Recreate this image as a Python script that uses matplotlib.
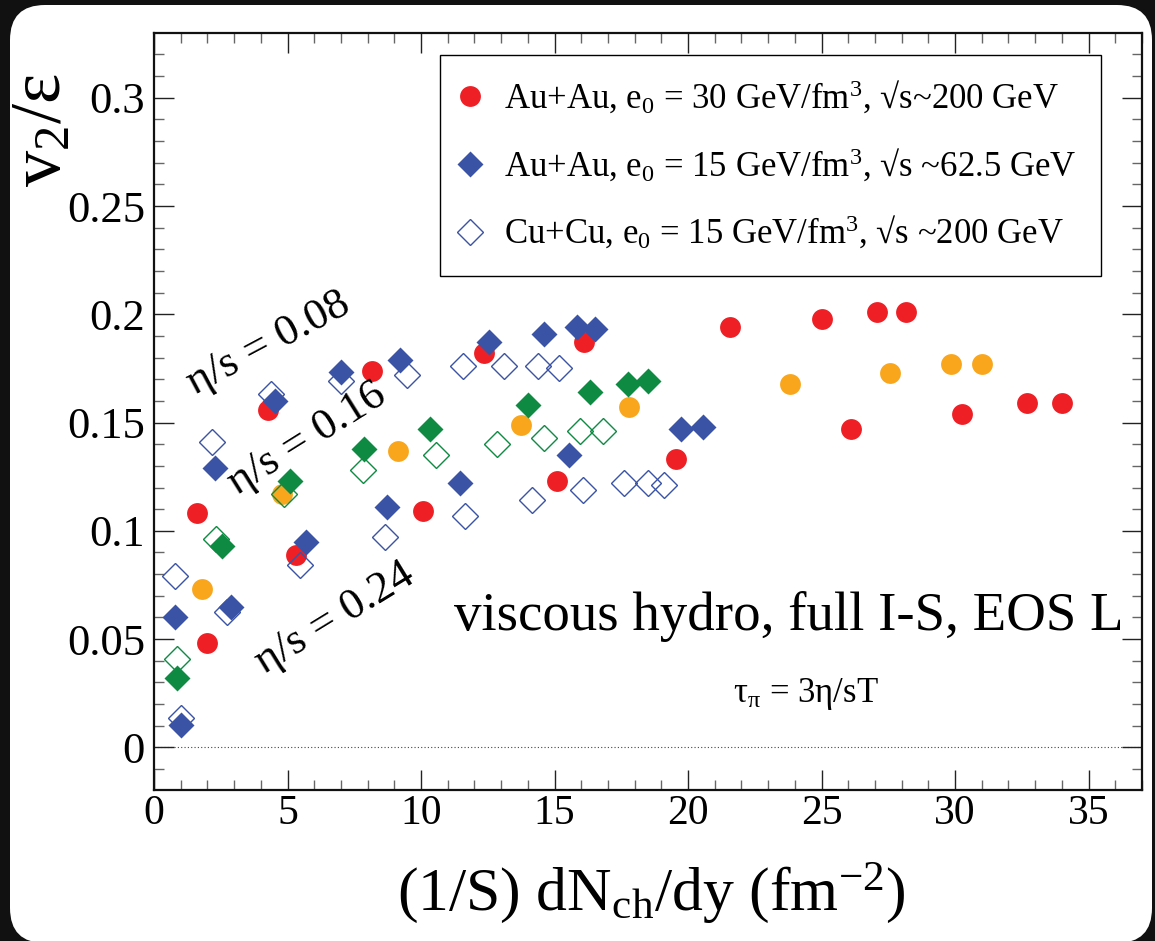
import matplotlib
matplotlib.use('Agg')
import matplotlib.pyplot as plt
from matplotlib.patches import FancyBboxPatch
from matplotlib.transforms import IdentityTransform
from matplotlib.ticker import MultipleLocator, FuncFormatter

plt.rcParams['font.family'] = ['Liberation Serif', 'DejaVu Serif']
plt.rcParams['mathtext.fontset'] = 'custom'
plt.rcParams['mathtext.rm'] = 'Liberation Serif'
plt.rcParams['mathtext.it'] = 'Liberation Serif:italic'
plt.rcParams['mathtext.default'] = 'regular'

# ---------------- data ----------------
# Au+Au 200 GeV (red circles: eta/s = 0.08 and 0.24)
red_x = [1.6, 4.28, 8.18, 12.35, 16.1, 21.57, 25.0, 27.07, 28.15,
         2.0, 5.32, 10.08, 15.1, 19.54, 26.1, 30.25, 32.7, 34.0]
red_y = [0.108, 0.156, 0.174, 0.182, 0.187, 0.194, 0.198, 0.201, 0.201,
         0.048, 0.089, 0.109, 0.123, 0.133, 0.147, 0.154, 0.159, 0.159]
# Au+Au 200 GeV (orange circles: eta/s = 0.16)
orange_x = [1.8, 4.78, 9.12, 13.73, 17.8, 23.8, 27.57, 29.84, 31.02]
orange_y = [0.073, 0.117, 0.137, 0.149, 0.157, 0.168, 0.173, 0.177, 0.177]
# Au+Au 62.5 GeV (filled blue diamonds: eta/s = 0.08 and 0.24)
blue_x = [2.28, 4.53, 7.01, 9.21, 12.53, 14.6, 15.85, 16.52,
          1.0, 0.79, 2.87, 5.68, 8.71, 11.46, 15.55, 19.72, 20.57]
blue_y = [0.129, 0.160, 0.1735, 0.179, 0.187, 0.191, 0.194, 0.193,
          0.0103, 0.060, 0.065, 0.095, 0.111, 0.122, 0.135, 0.147, 0.148]
# Au+Au 62.5 GeV (filled green diamonds: eta/s = 0.16)
green_x = [0.87, 2.53, 5.1, 7.86, 10.33, 14.02, 16.33, 17.75, 18.5]
green_y = [0.032, 0.093, 0.123, 0.138, 0.147, 0.158, 0.164, 0.168, 0.169]
# Cu+Cu 200 GeV (open blue diamonds: eta/s = 0.08 and 0.24)
oblue_x = [0.79, 2.18, 4.4, 7.0, 9.46, 11.56, 13.12, 14.39, 15.15,
           1.0, 2.72, 5.47, 8.66, 11.65, 14.15, 16.07, 17.6, 18.5, 19.1]
oblue_y = [0.079, 0.141, 0.163, 0.169, 0.172, 0.176, 0.176, 0.176, 0.175,
           0.0134, 0.0626, 0.084, 0.097, 0.107, 0.114, 0.119, 0.122, 0.122, 0.121]
# Cu+Cu 200 GeV (open green diamonds: eta/s = 0.16)
ogreen_x = [0.87, 2.34, 4.88, 7.81, 10.56, 12.84, 14.59, 15.97, 16.8]
ogreen_y = [0.041, 0.096, 0.117, 0.128, 0.135, 0.140, 0.143, 0.146, 0.146]

legend_labels = [
    'Au+Au, e$_0$ = 30 GeV/fm$^3$, \u221as~200 GeV',
    'Au+Au, e$_0$ = 15 GeV/fm$^3$, \u221as ~62.5 GeV',
    'Cu+Cu, e$_0$ = 15 GeV/fm$^3$, \u221as ~200 GeV',
]
x_ticks = [0, 5, 10, 15, 20, 25, 30, 35]
y_ticks = [0, 0.05, 0.1, 0.15, 0.2, 0.25, 0.3]

RED = '#ee1f25'
ORANGE = '#f9a61d'
BLUE = '#3a53a4'
GREEN = '#0e8a42'

# ---------------- figure ----------------
W, H = 1155, 941
fig = plt.figure(figsize=(W / 100, H / 100), dpi=100)
fig.patch.set_facecolor('#111111')
panel = FancyBboxPatch((10 + 35, 0 - 2 + 35), 1142 - 70, 936 - 70 + 2,
                       boxstyle='round,pad=35', transform=IdentityTransform(),
                       facecolor='white', edgecolor='none', zorder=-5)
fig.patches.append(panel)

ax = fig.add_axes([154 / W, 1 - 790 / H, (1142 - 154) / W, (790 - 33) / H])
ax.set_zorder(1)
ax.set_facecolor('white')

ms_c = 15
ms_d = 13
h_red, = ax.plot(red_x, red_y, 'o', color=RED, ms=ms_c, mec='none', zorder=3)
ax.plot(orange_x, orange_y, 'o', color=ORANGE, ms=ms_c, mec='none', zorder=3)
h_oblue, = ax.plot(oblue_x, oblue_y, 'D', mfc='none', mec=BLUE, mew=1.0, ms=ms_d, zorder=4)
ax.plot(ogreen_x, ogreen_y, 'D', mfc='none', mec=GREEN, mew=1.0, ms=ms_d, zorder=4)
ax.plot(green_x, green_y, 'D', color=GREEN, mec='none', ms=ms_d, zorder=5)
h_blue, = ax.plot(blue_x, blue_y, 'D', color=BLUE, mec='none', ms=ms_d, zorder=5)

ax.axhline(0, ls=(0, (1, 2)), lw=0.8, color='#444444', zorder=1)

ax.set_xlim(0, 37)
ax.set_ylim(-0.0197, 0.3299)
ax.set_xticks(x_ticks)
ax.set_yticks(y_ticks)
ax.xaxis.set_minor_locator(MultipleLocator(1))
ax.yaxis.set_minor_locator(MultipleLocator(0.01))
ax.yaxis.set_major_formatter(FuncFormatter(lambda v, p: '%g' % round(v, 3)))
ax.xaxis.set_major_formatter(FuncFormatter(lambda v, p: '%g' % v))
ax.tick_params(which='both', direction='in', top=True, right=True)
ax.tick_params(which='major', length=14.5, width=1.0, color='#222222')
ax.tick_params(which='minor', length=7.2, width=1.0, color='#666666')
ax.tick_params(axis='y', which='major', labelsize=32, pad=6.5)
ax.tick_params(axis='x', which='major', labelsize=30, pad=3)
for s in ax.spines.values():
    s.set_linewidth(1.6)
    s.set_color('#111111')

ax.set_xlabel('(1/S) dN$_{ch}$/dy (fm$^{-2}$)', fontsize=44.5,
              ha='center', va='center')
ax.xaxis.set_label_coords(0.503, -0.136)
ax.set_ylabel('v$_2$/\u03b5', fontsize=52, ha='center', va='center',
              rotation=90, rotation_mode='default')
ax.yaxis.set_label_coords(-0.113, 0.872)

leg = ax.legend([h_red, h_blue, h_oblue], legend_labels, loc='upper left',
                bbox_to_anchor=(0.2895, 0.971), fontsize=25, frameon=True,
                fancybox=False, framealpha=1, edgecolor='black',
                borderpad=0.7, labelspacing=0.88, handlelength=0.3,
                handletextpad=0.84, borderaxespad=0, numpoints=1)
leg.get_frame().set_linewidth(1.0)

ax.text(36.3, 0.054, 'viscous hydro, full I-S, EOS L', fontsize=39.5,
        ha='right', va='baseline')
ax.text(24.4, 0.021, '\u03c4$_\u03c0$ = 3\u03b7/sT', fontsize=25,
        ha='center', va='baseline')
ax.text(4.28, 0.1866, '\u03b7/s = 0.08', fontsize=32, rotation=28,
        ha='center', va='center', rotation_mode='anchor')
ax.text(5.72, 0.1427, '\u03b7/s = 0.16', fontsize=32, rotation=32,
        ha='center', va='center', rotation_mode='anchor')
ax.text(6.78, 0.0596, '\u03b7/s = 0.24', fontsize=32, rotation=31.5,
        ha='center', va='center', rotation_mode='anchor')

fig.savefig('out.png', dpi=100, facecolor=fig.get_facecolor())
